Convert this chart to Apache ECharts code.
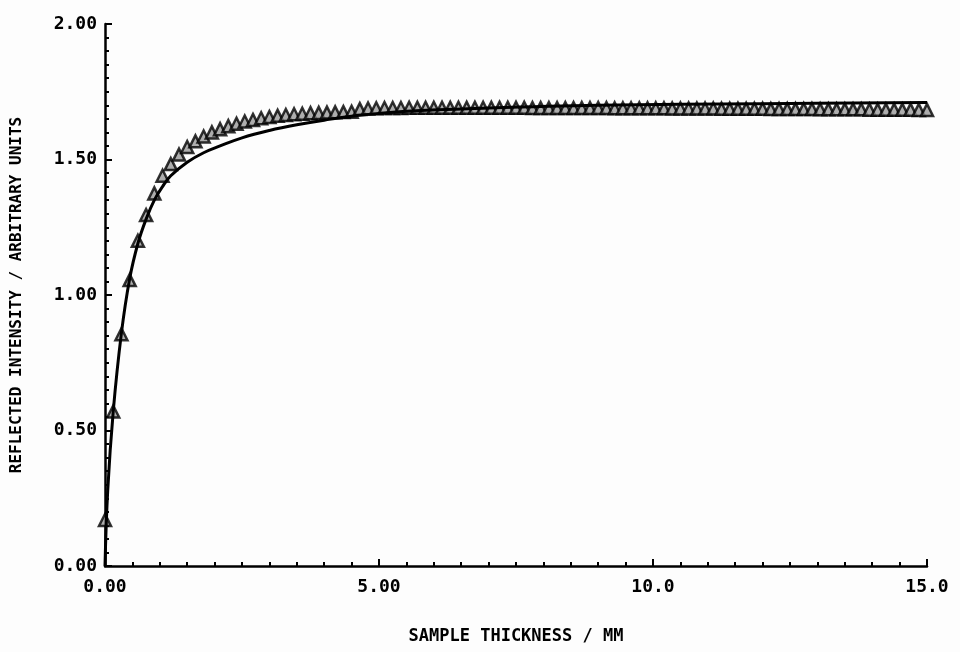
<!DOCTYPE html>
<html><head><meta charset="utf-8">
<script src="https://cdn.jsdelivr.net/npm/echarts@6/dist/echarts.min.js"></script>
<style>html,body{margin:0;padding:0;background:#fdfdfd}#c{width:960px;height:652px}</style>
</head><body><div id="c"></div>
<script>
// Measured points (triangles)
const triX = [0.00,0.15,0.30,0.45,0.60,0.75,0.90,1.05,1.20,1.35,1.50,1.65,1.80,1.95,2.10,2.25,2.40,2.55,2.70,2.85,
  3.00,3.15,3.30,3.45,3.60,3.75,3.90,4.05,4.20,4.35,4.50,4.65,4.80,4.95,5.10,5.25,5.40,5.55,5.70,5.85,
  6.00,6.15,6.30,6.45,6.60,6.75,6.90,7.05,7.20,7.35,7.50,7.65,7.80,7.95,8.10,8.25,8.40,8.55,8.70,8.85,
  9.00,9.15,9.30,9.45,9.60,9.75,9.90,10.05,10.20,10.35,10.50,10.65,10.80,10.95,11.10,11.25,11.40,11.55,11.70,11.85,
  12.00,12.15,12.30,12.45,12.60,12.75,12.90,13.05,13.20,13.35,13.50,13.65,13.80,13.95,14.10,14.25,14.40,14.55,14.70,14.85,15.00];
const triY = [0.17,0.57,0.855,1.055,1.20,1.295,1.375,1.44,1.483,1.518,1.546,1.567,1.585,1.600,1.612,1.623,1.632,1.640,1.646,1.652,
  1.657,1.661,1.664,1.667,1.669,1.671,1.672,1.673,1.674,1.675,1.676,1.686,1.688,1.689,1.690,1.690,1.690,1.691,1.691,1.691,
  1.691,1.691,1.691,1.691,1.691,1.691,1.691,1.691,1.691,1.691,1.691,1.691,1.690,1.690,1.690,1.690,1.690,1.690,1.690,1.690,
  1.690,1.690,1.689,1.689,1.689,1.689,1.689,1.689,1.689,1.688,1.688,1.688,1.688,1.688,1.688,1.687,1.687,1.687,1.687,1.687,
  1.687,1.686,1.686,1.686,1.686,1.686,1.686,1.685,1.685,1.685,1.685,1.685,1.685,1.684,1.684,1.684,1.684,1.684,1.684,1.683,1.683];
// Fitted curve (solid line)
const lineX = [0.00,0.05,0.15,0.30,0.45,0.60,0.75,0.90,1.05,1.20,1.50,1.80,2.10,2.50,3.00,3.50,4.00,4.60,5.50,7.00,9.00,12.00,15.00];
const lineY = [0.00,0.28,0.57,0.86,1.06,1.19,1.28,1.35,1.40,1.44,1.49,1.525,1.55,1.58,1.607,1.628,1.645,1.662,1.678,1.69,1.70,1.706,1.71];
const xTickLabels = {0:'0.00',5:'5.00',10:'10.0',15:'15.0'};
const yTickLabels = {0:'0.00',0.5:'0.50',1:'1.00',1.5:'1.50',2:'2.00'};
const xTitle = 'SAMPLE THICKNESS / MM';
const yTitle = 'REFLECTED INTENSITY / ARBITRARY UNITS';

const font = '"DejaVu Sans Mono", monospace';
const chart = echarts.init(document.getElementById('c'), null, {renderer:'canvas'});
chart.setOption({
  backgroundColor:'#fdfdfd',
  animation:false,
  grid:{left:105,right:33,top:24,bottom:86,containLabel:false,outerBoundsMode:'none'},
  xAxis:{type:'value',min:0,max:15,interval:5,
    axisLine:{lineStyle:{color:'#000',width:2.5}},
    axisTick:{inside:true,length:7,lineStyle:{color:'#000',width:2}},
    minorTick:{show:true,splitNumber:10,length:4,lineStyle:{color:'#000',width:2}},
    splitLine:{show:false},
    axisLabel:{margin:12,color:'#000',fontFamily:font,fontWeight:'bold',fontSize:18,
      formatter:v=>xTickLabels[v]},
    name:xTitle,nameLocation:'middle',nameGap:62,
    nameTextStyle:{color:'#000',fontFamily:font,fontWeight:'bold',fontSize:17}
  },
  yAxis:{type:'value',min:0,max:2,interval:0.5,
    axisLine:{show:true,lineStyle:{color:'#000',width:2.5}},
    axisTick:{show:true,inside:true,length:7,lineStyle:{color:'#000',width:2}},
    minorTick:{show:true,splitNumber:10,length:4,lineStyle:{color:'#000',width:2}},
    splitLine:{show:false},
    axisLabel:{margin:8,color:'#000',fontFamily:font,fontWeight:'bold',fontSize:18,
      formatter:v=>yTickLabels[v]},
    name:yTitle,nameLocation:'middle',nameGap:80,nameRotate:90,
    nameTextStyle:{color:'#000',fontFamily:font,fontWeight:'bold',fontSize:16}
  },
  series:[
    {type:'scatter',data:triX.map((x,i)=>[x,triY[i]]),symbol:'triangle',symbolSize:[12,12],
      itemStyle:{color:'#999',borderColor:'#000',borderWidth:2.5},z:2},
    {type:'line',data:lineX.map((x,i)=>[x,lineY[i]]),smooth:0.4,showSymbol:false,
      lineStyle:{color:'#000',width:3},z:3}
  ]
});
</script></body></html>
